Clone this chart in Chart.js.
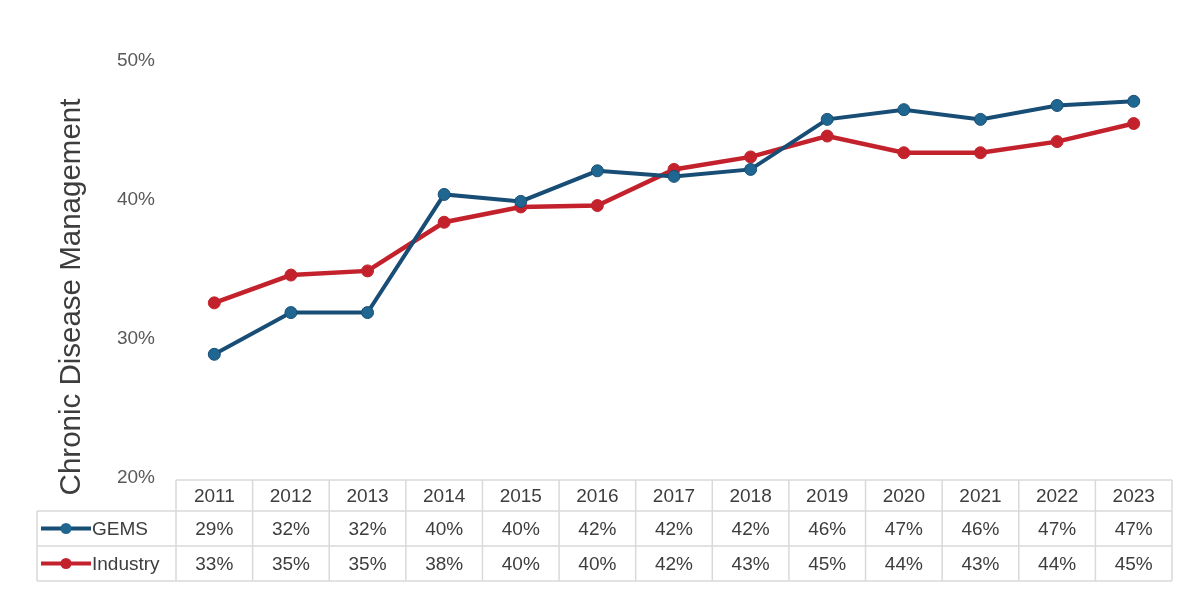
<!DOCTYPE html>
<html>
<head>
<meta charset="utf-8">
<script src="https://cdn.jsdelivr.net/npm/chart.js@4/dist/chart.umd.min.js"></script>
<style>
	html, body { margin: 0; padding: 0; background: #fff; }
	#wrap { width: 1200px; height: 594px; position: relative; }
</style>
</head>
<body>
<div id="wrap"><canvas id="chart"></canvas></div>
<script>
var years = ['2011', '2012', '2013', '2014', '2015', '2016', '2017', '2018', '2019', '2020', '2021', '2022', '2023'];
var gemsValues = [28.9, 31.9, 31.9, 40.4, 39.9, 42.1, 41.7, 42.2, 45.8, 46.5, 45.8, 46.8, 47.1];
var industryValues = [32.6, 34.6, 34.9, 38.4, 39.5, 39.6, 42.2, 43.1, 44.6, 43.4, 43.4, 44.2, 45.5];
var gemsTable = ['29%', '32%', '32%', '40%', '40%', '42%', '42%', '42%', '46%', '47%', '46%', '47%', '47%'];
var industryTable = ['33%', '35%', '35%', '38%', '40%', '40%', '42%', '43%', '45%', '44%', '43%', '44%', '45%'];
var yTicks = [20, 30, 40, 50];
var yTitle = 'Chronic Disease Management';

var gemsColor = '#184d76';
var gemsPoint = '#1f6790';
var industryColor = '#c3222c';
var fontName = '"Liberation Sans", Arial, sans-serif';
var textColor = '#3d3d3d';
var borderColor = '#d9d9d9';

//Draws the y title and the data table under the plot
var tablePlugin = {
	id: 'dataTable',
	afterDraw: function(chart) {
		var ctx = chart.ctx,
			xScale = chart.scales.x,
			area = chart.chartArea,
			colWidth = xScale.getPixelForValue(1) - xScale.getPixelForValue(0),
			left = area.left,
			right = area.right,
			labelLeft = 37,
			rows = [480, 511, 546, 581];

		ctx.save();

		// y title
		ctx.translate(72, 297);
		ctx.rotate(-Math.PI / 2);
		ctx.font = '29.5px ' + fontName;
		ctx.fillStyle = textColor;
		ctx.textAlign = 'center';
		ctx.textBaseline = 'middle';
		ctx.fillText(yTitle, 0, 0);
		ctx.restore();

		ctx.save();
		ctx.strokeStyle = borderColor;
		ctx.lineWidth = 1.5;
		ctx.beginPath();
		ctx.moveTo(left, rows[0]);
		ctx.lineTo(right, rows[0]);
		for (let r = 1; r < rows.length; r++) {
			ctx.moveTo(labelLeft, rows[r]);
			ctx.lineTo(right, rows[r]);
		}
		ctx.moveTo(labelLeft, rows[1]);
		ctx.lineTo(labelLeft, rows[3]);
		for (let i = 0; i <= years.length; i++) {
			let x = left + i * colWidth;
			ctx.moveTo(x, rows[0]);
			ctx.lineTo(x, rows[3]);
		}
		ctx.stroke();

		ctx.font = '19px ' + fontName;
		ctx.fillStyle = textColor;
		ctx.textAlign = 'center';
		ctx.textBaseline = 'middle';
		for (let i = 0; i < years.length; i++) {
			let x = xScale.getPixelForValue(i);
			ctx.fillText(years[i], x, (rows[0] + rows[1]) / 2 + 1);
			ctx.fillText(gemsTable[i], x, (rows[1] + rows[2]) / 2 + 1);
			ctx.fillText(industryTable[i], x, (rows[2] + rows[3]) / 2 + 1);
		}

		// legend keys
		var keys = [
			{label: 'GEMS', color: gemsColor, fill: gemsPoint, y: (rows[1] + rows[2]) / 2},
			{label: 'Industry', color: industryColor, fill: industryColor, y: (rows[2] + rows[3]) / 2}
		];
		keys.forEach(function(key) {
			ctx.strokeStyle = key.color;
			ctx.lineWidth = 4;
			ctx.beginPath();
			ctx.moveTo(41, key.y);
			ctx.lineTo(91, key.y);
			ctx.stroke();
			ctx.fillStyle = key.fill;
			ctx.beginPath();
			ctx.arc(66, key.y, 5.5, 0, Math.PI * 2);
			ctx.fill();
			ctx.fillStyle = textColor;
			ctx.textAlign = 'left';
			ctx.fillText(key.label, 92, key.y + 1);
		});

		ctx.restore();
	}
};

new Chart(document.getElementById('chart'), {
	type: 'line',
	data: {
		labels: years,
		datasets: [
			{
				label: 'GEMS',
				data: gemsValues,
				borderColor: gemsColor,
				backgroundColor: gemsPoint,
				pointBackgroundColor: gemsPoint,
				pointBorderColor: gemsColor,
				borderWidth: 4,
				pointRadius: 6,
				pointBorderWidth: 1,
				tension: 0
			},
			{
				label: 'Industry',
				data: industryValues,
				borderColor: industryColor,
				backgroundColor: industryColor,
				pointBackgroundColor: industryColor,
				pointBorderColor: industryColor,
				borderWidth: 4.5,
				pointRadius: 6,
				pointBorderWidth: 1,
				tension: 0
			}
		]
	},
	options: {
		responsive: true,
		maintainAspectRatio: false,
		animation: false,
		layout: {
			padding: {left: 0, right: 28, top: 61, bottom: 116}
		},
		plugins: {
			legend: {display: false},
			tooltip: {enabled: false}
		},
		scales: {
			x: {
				display: false,
				offset: true
			},
			y: {
				min: 20,
				max: 50,
				afterFit: function(scale) {
					scale.width = 176;
				},
				afterBuildTicks: function(scale) {
					scale.ticks = yTicks.map(function(v) { return {value: v}; });
				},
				grid: {display: false, drawTicks: false},
				border: {display: false},
				ticks: {
					padding: 21,
					color: '#595959',
					font: {family: fontName, size: 19},
					callback: function(v) { return v + '%'; }
				}
			}
		}
	},
	plugins: [tablePlugin]
});
</script>
</body>
</html>
